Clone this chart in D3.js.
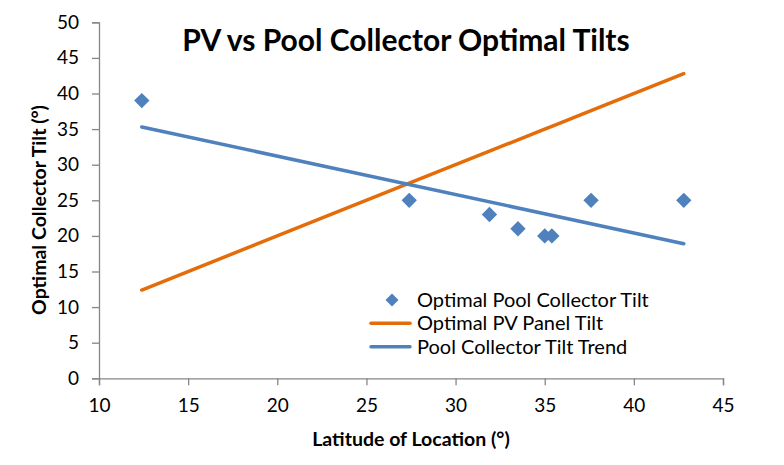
<!DOCTYPE html>
<html><head><meta charset="utf-8">
<script src="https://cdn.jsdelivr.net/npm/d3@7"></script>
<style>body{margin:0;background:#fff}svg{display:block}text{font-family:Lato,"Open Sans",sans-serif}</style>
</head><body><svg id="c" width="784" height="465"></svg>
<script>
const latitudes = [12.4, 27.4, 31.9, 33.5, 35.0, 35.4, 37.6, 42.8];
const poolTilt = [39, 25, 23, 21, 20, 20, 25, 25];
const pvTilt = [12.4, 27.4, 31.9, 33.5, 35.0, 35.4, 37.6, 42.8];
const trendX = [12.4, 42.8];
const trendY = [35.3, 18.9];
const xTicks = [10, 15, 20, 25, 30, 35, 40, 45];
const yTicks = [0, 5, 10, 15, 20, 25, 30, 35, 40, 45, 50];
const seriesNames = ["Optimal Pool Collector Tilt", "Optimal PV Panel Tilt", "Pool Collector Tilt Trend"];

const blue = "#4F81BD", orange = "#E46C0A", axisCol = "#868686";
const svg = d3.select("#c");
const x = d3.scaleLinear().domain([10, 45]).range([99, 723]);
const y = d3.scaleLinear().domain([0, 50]).range([378.3, 22.3]);

const xa = svg.append("g").attr("transform", `translate(0,${y(0)})`)
  .call(d3.axisBottom(x).tickValues(xTicks).tickSize(7).tickPadding(13));
const ya = svg.append("g").attr("transform", `translate(${x(10)},0)`)
  .call(d3.axisLeft(y).tickValues(yTicks).tickSize(7).tickPadding(13));
[xa, ya].forEach(a => {
  a.selectAll("path,line").attr("stroke", axisCol).attr("stroke-width", 1.3);
  a.selectAll("text").attr("font-size", 19).attr("fill", "#000").attr("font-family", "Lato, sans-serif");
});

const line = d3.line().x(d => x(d[0])).y(d => y(d[1]));
svg.append("path").datum(latitudes.map((v, i) => [v, pvTilt[i]]))
  .attr("d", line).attr("fill", "none").attr("stroke", orange).attr("stroke-width", 3.5).attr("stroke-linecap", "round");
svg.append("path").datum(trendX.map((v, i) => [v, trendY[i]]))
  .attr("d", line).attr("fill", "none").attr("stroke", blue).attr("stroke-width", 3.5).attr("stroke-linecap", "round");

const diamond = d3.symbol().type(d3.symbolDiamond2).size(150);
svg.selectAll("path.pt").data(latitudes.map((v, i) => [v, poolTilt[i]])).join("path")
  .attr("class", "pt").attr("d", diamond)
  .attr("transform", d => `translate(${x(d[0])},${y(d[1])})`)
  .attr("fill", blue);

svg.append("text").attr("x", 406).attr("y", 51).attr("text-anchor", "middle")
  .attr("font-size", 30).attr("font-weight", "bold").text("PV vs Pool Collector Optimal Tilts");
svg.append("text").attr("x", 411).attr("y", 446).attr("text-anchor", "middle")
  .attr("font-size", 19.5).attr("font-weight", "bold").text("Latitude of Location (°)");
svg.append("text").attr("transform", "translate(46,210) rotate(-90)").attr("text-anchor", "middle")
  .attr("font-size", 19.5).attr("font-weight", "bold").text("Optimal Collector Tilt (°)");

const lg = svg.append("g");
const rows = [300, 323.3, 346.7];
lg.append("path").attr("d", diamond).attr("fill", blue).attr("transform", `translate(392,${rows[0]}) scale(0.85)`);
lg.append("line").attr("x1", 371).attr("x2", 410).attr("y1", rows[1]).attr("y2", rows[1]).attr("stroke", orange).attr("stroke-width", 3.5).attr("stroke-linecap", "round");
lg.append("line").attr("x1", 371).attr("x2", 410).attr("y1", rows[2]).attr("y2", rows[2]).attr("stroke", blue).attr("stroke-width", 3.5).attr("stroke-linecap", "round");
seriesNames.forEach((n, i) => lg.append("text").attr("x", 417).attr("y", rows[i]).attr("dy", "0.35em")
  .attr("font-size", 20).text(n));
</script></body></html>
